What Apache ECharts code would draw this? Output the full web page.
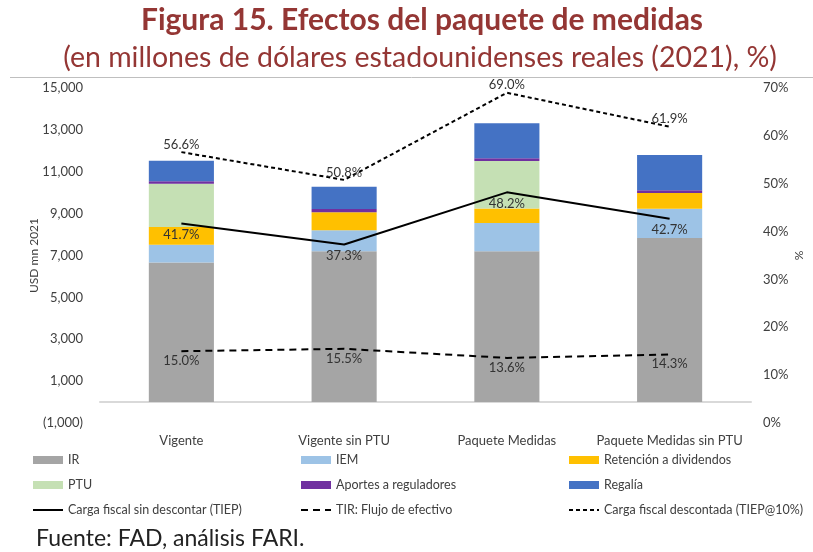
<!DOCTYPE html>
<html>
<head>
<meta charset="utf-8">
<script src="https://cdn.jsdelivr.net/npm/echarts@6/dist/echarts.min.js"></script>
<style>
  html, body { margin: 0; padding: 0; background: #fff; }
  #grafico { width: 813px; height: 552px; }
</style>
</head>
<body>
<div id="grafico"></div>
<script>
// datos (USD mn 2021 y %)
const categorias = ['Vigente', 'Vigente sin PTU', 'Paquete Medidas', 'Paquete Medidas sin PTU'];
const ir = [6670, 7200, 7200, 7830];
const iem = [840, 1010, 1350, 1400];
const retencion = [850, 850, 700, 750];
const ptu = [2070, 0, 2260, 0];
const aportes = [120, 160, 140, 140];
const regalia = [970, 1060, 1670, 1680];
const cargaSinDescontar = [41.7, 37.3, 48.2, 42.7];
const tir = [15.0, 15.5, 13.6, 14.3];
const cargaDescontada = [56.6, 50.8, 69.0, 61.9];

const rojo = '#943634';
const fuente = 'Lato';

function barra(nombre, datos, color) {
  return {
    name: nombre, type: 'bar', stack: 'total', data: datos,
    barWidth: '40%', itemStyle: { color: color }
  };
}

function linea(nombre, datos, tipo, posicion, distancia) {
  return {
    name: nombre, type: 'line', yAxisIndex: 1, data: datos,
    symbol: 'circle', symbolSize: 0,
    lineStyle: { color: '#000', width: 2, type: tipo },
    itemStyle: { color: '#000' },
    label: {
      show: true, position: posicion, distance: distancia,
      formatter: p => p.value.toFixed(1) + '%',
      fontFamily: fuente, fontSize: 13, color: '#333'
    },
    z: 5
  };
}

// en la leyenda las series de línea van sin marcador
function itemLinea(nombre) {
  return { name: nombre, itemStyle: { opacity: 0 } };
}

function leyenda(x, nombres) {
  return {
    orient: 'vertical', left: x, top: 453, padding: 0,
    itemWidth: 30, itemHeight: 8, itemGap: 11,
    textStyle: { fontFamily: fuente, fontSize: 12.5, color: '#404040', lineHeight: 14 },
    data: nombres
  };
}

const myChart = echarts.init(document.getElementById('grafico'));
const option = {
  animation: false,
  graphic: [
    {
      type: 'text', x: 422, y: 20,
      style: {
        text: 'Figura 15. Efectos del paquete de medidas', textAlign: 'center', textVerticalAlign: 'middle',
        font: 'bold 30px Lato', fill: rojo
      }
    },
    {
      type: 'text', x: 420, y: 58,
      style: {
        text: '(en millones de dólares estadounidenses reales (2021), %)', textAlign: 'center', textVerticalAlign: 'middle',
        font: '28.5px Lato', fill: rojo
      }
    },
    { type: 'line', shape: { x1: 10, y1: 77.5, x2: 813, y2: 77.5 }, style: { stroke: '#BFBFBF', lineWidth: 1 } },
    {
      type: 'text', left: 36, top: 527,
      style: { text: 'Fuente: FAD, análisis FARI.', font: '23px Lato', fill: '#222' }
    }
  ],
  grid: { left: 100, right: 58, top: 88, bottom: 129 },
  legend: [
    leyenda(32, [{ name: 'IR', icon: 'rect' }, { name: 'PTU', icon: 'rect' }, itemLinea('Carga fiscal sin descontar (TIEP)')]),
    leyenda(300, [{ name: 'IEM', icon: 'rect' }, { name: 'Aportes a reguladores', icon: 'rect' }, itemLinea('TIR: Flujo de efectivo')]),
    leyenda(568, [{ name: 'Retención a dividendos', icon: 'rect' }, { name: 'Regalía', icon: 'rect' }, itemLinea('Carga fiscal descontada (TIEP@10%)')])
  ],
  xAxis: {
    type: 'category', data: categorias,
    axisLine: { onZero: true, lineStyle: { color: '#D9D9D9', width: 2 } },
    axisTick: { show: false },
    axisLabel: { interval: 0, margin: 11, fontFamily: fuente, fontSize: 13, color: '#404040' }
  },
  yAxis: [
    {
      type: 'value', min: -1000, max: 15000, interval: 2000,
      name: 'USD mn 2021', nameLocation: 'middle', nameGap: 60, nameRotate: 90, nameMoveOverlap: false,
      nameTextStyle: { fontFamily: fuente, fontSize: 12, color: '#404040' },
      splitLine: { show: false },
      axisLine: { show: false },
      axisLabel: {
        margin: 17, fontFamily: fuente, fontSize: 13, color: '#404040',
        formatter: v => v < 0 ? '(' + Math.abs(v).toLocaleString('en-US') + ')' : v.toLocaleString('en-US')
      }
    },
    {
      type: 'value', min: 0, max: 70, interval: 10,
      name: '%', nameLocation: 'middle', nameGap: 42, nameRotate: 90, nameMoveOverlap: false,
      nameTextStyle: { fontFamily: fuente, fontSize: 12, color: '#404040' },
      splitLine: { show: false },
      axisLine: { show: false },
      axisLabel: { margin: 12, fontFamily: fuente, fontSize: 13, color: '#404040', formatter: '{value}%' }
    }
  ],
  series: [
    barra('IR', ir, '#A5A5A5'),
    barra('IEM', iem, '#9DC3E6'),
    barra('Retención a dividendos', retencion, '#FFC000'),
    barra('PTU', ptu, '#C5E0B4'),
    barra('Aportes a reguladores', aportes, '#7030A0'),
    barra('Regalía', regalia, '#4472C4'),
    linea('Carga fiscal sin descontar (TIEP)', cargaSinDescontar, 'solid', 'bottom', 5),
    linea('TIR: Flujo de efectivo', tir, [7, 5], 'bottom', 3),
    linea('Carga fiscal descontada (TIEP@10%)', cargaDescontada, [4, 3], 'top', 1)
  ]
};
myChart.setOption(option);
</script>
</body>
</html>
